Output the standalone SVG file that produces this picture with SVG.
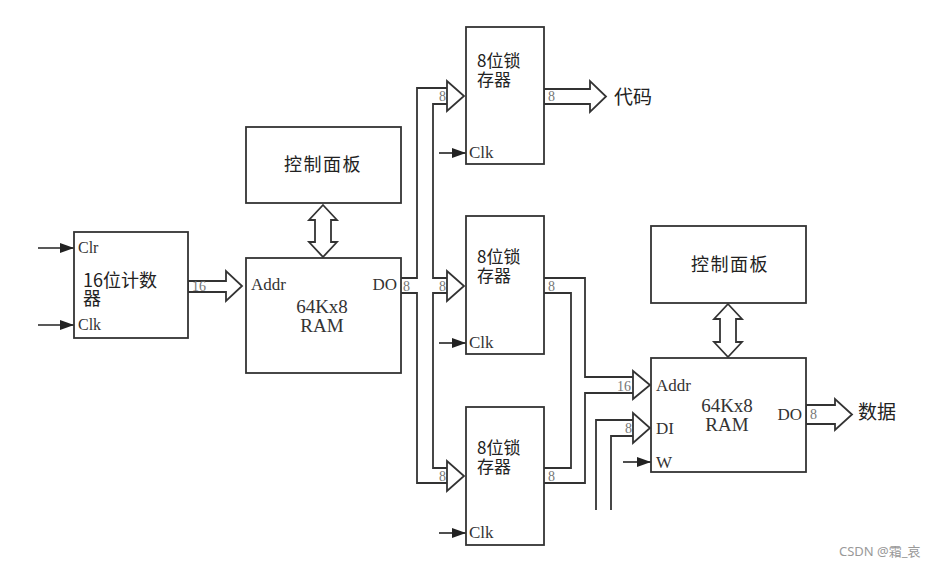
<svg xmlns="http://www.w3.org/2000/svg" width="935" height="567" viewBox="0 0 935 567">
<defs>
<marker id="ah" markerUnits="userSpaceOnUse" markerWidth="16" markerHeight="12" refX="14" refY="5" orient="auto">
<path d="M0,0 L14,5 L0,10 Z" fill="#222"/>
</marker>
<style>
.box{fill:#fff;stroke:#333;stroke-width:1.8}
.bus{fill:none;stroke:#333;stroke-width:1.8;stroke-linejoin:miter}
.head{fill:#fff;stroke:#333;stroke-width:1.8;stroke-linejoin:miter}
.clk{stroke:#222;stroke-width:1.6;marker-end:url(#ah)}
.cn{font-family:"Noto Sans CJK SC","Noto Sans",sans-serif;fill:#222}
.sr{font-family:"Liberation Serif",serif;fill:#333}
.bl{font-family:"Liberation Serif",serif;fill:#777;font-size:14px}
</style>
</defs>
<rect width="935" height="567" fill="#fff"/>

<g id="connectors">
<line class="clk" x1="38" y1="248" x2="74" y2="248"/>
<line class="clk" x1="38" y1="325" x2="74" y2="325"/>
<polygon class="head" points="188,281 226,281 226,271 242,286 226,301 226,292 188,292"/>
<text class="bl" x="192" y="291" font-size="15">16</text>
<polygon class="head" points="323,205 337,220 331,220 331,242 337,242 323,257 309,242 315,242 315,220 309,220"/>
<path class="bus" d="M401,278 L417,278 L417,88 L447,88"/>
<path class="bus" d="M401,293 L417,293 L417,483 L447,483"/>
<path class="bus" d="M447,104 L433,104 L433,278 L447,278"/>
<path class="bus" d="M447,468 L433,468 L433,293 L447,293"/>
<text class="bl" x="403" y="291">8</text>
<polygon class="head" points="447,88 447,81 464,96 447,111 447,104"/>
<polygon class="head" points="447,278 447,271 464,286 447,301 447,293"/>
<polygon class="head" points="447,468 447,461 464,476 447,491 447,483"/>
<text class="bl" x="439" y="101">8</text>
<text class="bl" x="439" y="291">8</text>
<text class="bl" x="439" y="481">8</text>
<line class="clk" x1="439" y1="153" x2="466" y2="153"/>
<line class="clk" x1="439" y1="343" x2="466" y2="343"/>
<line class="clk" x1="439" y1="533" x2="466" y2="533"/>
<polygon class="head" points="544,89 590,89 590,81 606,96.5 590,112 590,104 544,104"/>
<text class="bl" x="548" y="101">8</text>
<path class="bus" d="M544,278 L585,278 L585,377 L633,377"/>
<path class="bus" d="M544,293 L571,293 L571,468 L544,468"/>
<path class="bus" d="M544,483 L585,483 L585,393 L633,393"/>
<text class="bl" x="548" y="291">8</text>
<text class="bl" x="548" y="481">8</text>
<polygon class="head" points="633,377 633,371 650,385 633,399 633,393"/>
<text class="bl" x="617" y="391">16</text>
<path class="bus" d="M596,510 L596,420 L633,420"/>
<path class="bus" d="M611,510 L611,436 L633,436"/>
<polygon class="head" points="633,420 633,413 650,428 633,443 633,436"/>
<text class="bl" x="625" y="433">8</text>
<line class="clk" x1="623" y1="462" x2="651" y2="462"/>
<polygon class="head" points="728,304 742,319 736,319 736,342 742,342 728,357 714,342 720,342 720,319 714,319"/>
<polygon class="head" points="806,405 835,405 835,399 852,414.5 835,430 835,424 806,424"/>
<text class="bl" x="810" y="419">8</text>
</g>

<g id="counter">
<rect class="box" x="74" y="232" width="114" height="106"/>
<text class="sr" x="78" y="253" font-size="16">Clr</text>
<text class="sr" x="78" y="330" font-size="16">Clk</text>
<text class="cn" font-size="18"><tspan x="83" y="287">16位计数</tspan><tspan x="83" y="305">器</tspan></text>
</g>

<g id="panel1">
<rect class="box" x="246" y="127" width="155" height="76"/>
<text class="cn" x="323" y="171" font-size="18" text-anchor="middle" letter-spacing="1.5">控制面板</text>
</g>

<g id="ram1">
<rect class="box" x="246" y="258" width="155" height="115"/>
<text class="sr" x="251" y="290" font-size="17">Addr</text>
<text class="sr" x="397" y="290" font-size="17" text-anchor="end">DO</text>
<text class="sr" font-size="19" text-anchor="middle"><tspan x="322" y="313">64Kx8</tspan><tspan x="322" y="332">RAM</tspan></text>
</g>

<g id="latch1">
<rect class="box" x="466" y="27" width="78" height="137"/>
<text class="cn" font-size="17"><tspan x="477" y="67">8位锁</tspan><tspan x="477" y="86">存器</tspan></text>
<text class="sr" x="469" y="158" font-size="17">Clk</text>
</g>

<g id="latch2">
<rect class="box" x="466" y="216" width="78" height="138"/>
<text class="cn" font-size="17"><tspan x="477" y="263">8位锁</tspan><tspan x="477" y="282">存器</tspan></text>
<text class="sr" x="469" y="348" font-size="17">Clk</text>
</g>

<g id="latch3">
<rect class="box" x="466" y="407" width="78" height="138"/>
<text class="cn" font-size="17"><tspan x="477" y="454">8位锁</tspan><tspan x="477" y="473">存器</tspan></text>
<text class="sr" x="469" y="538" font-size="17">Clk</text>
</g>

<g id="out-code">
<text class="cn" x="614" y="104" font-size="19">代码</text>
</g>

<g id="panel2">
<rect class="box" x="651" y="226" width="155" height="77"/>
<text class="cn" x="730" y="271" font-size="18" text-anchor="middle" letter-spacing="1.5">控制面板</text>
</g>

<g id="ram2">
<rect class="box" x="651" y="358" width="155" height="114"/>
<text class="sr" x="656" y="391" font-size="17">Addr</text>
<text class="sr" x="656" y="434" font-size="17">DI</text>
<text class="sr" x="656" y="468" font-size="17">W</text>
<text class="sr" x="802" y="420" font-size="17" text-anchor="end">DO</text>
<text class="sr" font-size="19" text-anchor="middle"><tspan x="727" y="412">64Kx8</tspan><tspan x="727" y="431">RAM</tspan></text>
</g>

<g id="out-data">
<text class="cn" x="858" y="419" font-size="19">数据</text>
</g>

<text x="839" y="556" font-size="13" fill="#999" font-family="'Noto Sans','Noto Sans CJK SC',sans-serif">CSDN @霜_哀</text>
</svg>
